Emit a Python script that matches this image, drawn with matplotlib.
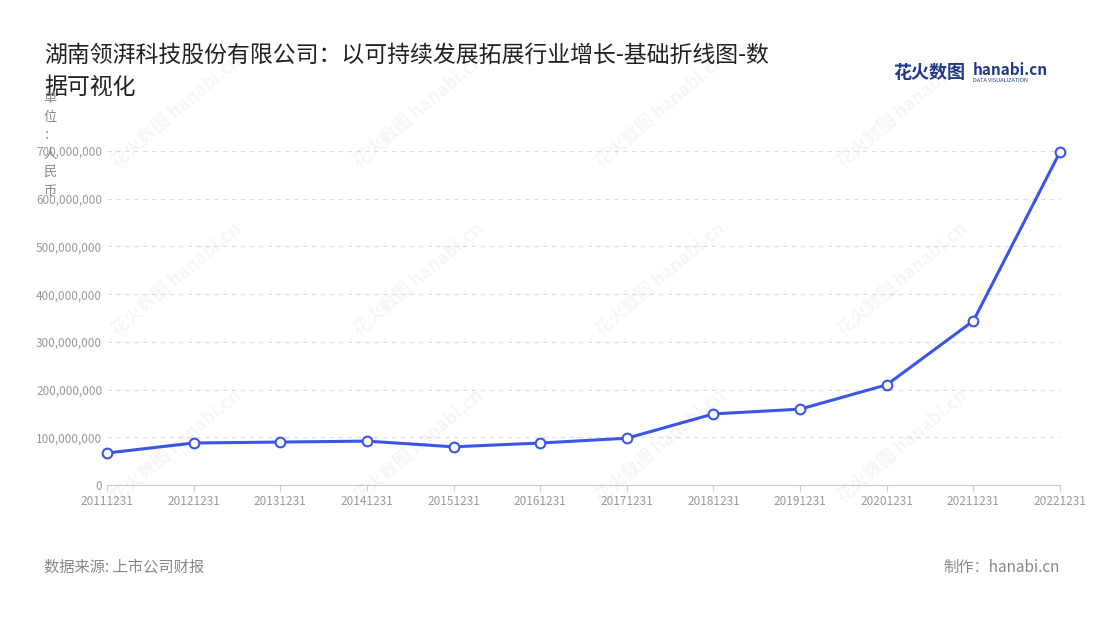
import matplotlib
matplotlib.use("Agg")
import matplotlib.pyplot as plt
from matplotlib.ticker import FuncFormatter

plt.rcParams['font.family'] = ['Noto Sans CJK SC', 'DejaVu Sans']

dates = ["20111231","20121231","20131231","20141231","20151231","20161231",
         "20171231","20181231","20191231","20201231","20211231","20221231"]
values = [67e6, 88e6, 90e6, 92e6, 80e6, 88e6, 98e6, 149e6, 159e6, 210e6, 344e6, 698e6]
yticks = [0, 100e6, 200e6, 300e6, 400e6, 500e6, 600e6, 700e6]

fig = plt.figure(figsize=(11, 6.2), dpi=100)
ax = fig.add_axes([107/1100, 1-485/620, (1060-107)/1100, (485-151)/620])
x = list(range(len(dates)))
ax.plot(x, values, color='#3a56e8', lw=2.2, marker='o', ms=7,
        mfc='white', mec='#3a56e8', mew=1.5, clip_on=False, zorder=3)
ax.set_xlim(0, len(dates)-1)
ax.set_ylim(0, 700e6)
ax.set_yticks(yticks)
ax.yaxis.set_major_formatter(FuncFormatter(lambda v, p: f"{int(v):,}"))
ax.set_xticks(x)
ax.set_xticklabels(dates)
ax.tick_params(axis='both', colors='#999999', labelsize=8.5, length=0)
ax.tick_params(axis='x', length=4, color='#cccccc')
ax.grid(axis='y', ls=(0, (4, 4)), color='#dddddd', lw=0.8)
for s in ['top', 'right', 'left']:
    ax.spines[s].set_visible(False)
ax.spines['bottom'].set_color('#cccccc')

# watermarks
for wx in [0.16, 0.38, 0.6, 0.82]:
    for wy in [0.82, 0.55, 0.28]:
        fig.text(wx, wy, "花火数图 hanabi.cn", fontsize=13, color='#000000', alpha=0.04,
                 rotation=40, ha='center', va='center', fontweight='bold')

fig.text(44/1100, 1-55/620, "湖南领湃科技股份有限公司：以可持续发展拓展行业增长-基础折线图-数",
         fontsize=16.5, color='#222222', va='center')
fig.text(44/1100, 1-87/620, "据可视化", fontsize=16.5, color='#222222', va='center')
fig.text(50/1100, 1-92/620, "单\n位\n：\n人\n民\n币", fontsize=9.5, color='#888888',
         ha='center', va='top', linespacing=1.55)
fig.text(893/1100, 1-72/620, "花火数图", fontsize=13, color='#1f3a8a', fontweight='bold', va='center')
fig.text(973/1100, 1-70/620, "hanabi.cn", fontsize=11, color='#1f3a8a', fontweight='bold', va='center')
fig.text(973/1100, 1-81/620, "DATA VISUALIZATION", fontsize=4, color='#1f3a8a', va='center')
fig.text(44/1100, 1-567/620, "数据来源: 上市公司财报", fontsize=11, color='#888888', va='center')
fig.text(1060/1100, 1-567/620, "制作：hanabi.cn", fontsize=11, color='#888888', va='center', ha='right')

fig.savefig("out.png", dpi=100)
